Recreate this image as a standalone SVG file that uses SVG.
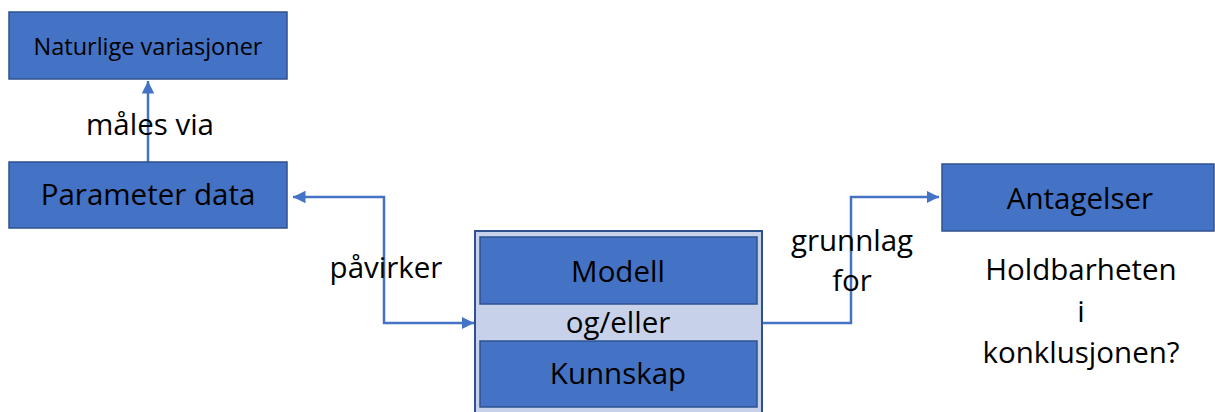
<svg xmlns="http://www.w3.org/2000/svg" width="1215" height="412" viewBox="0 0 1215 412">
<defs>
<style>
.box{fill:#4472C4;stroke:#2F528F;stroke-width:1.5}
.t{font-family:"Open Sans","Liberation Sans",sans-serif;fill:#000;text-anchor:middle;font-size:29.5px}
.edge{fill:none;stroke:#4472C4;stroke-width:2.5}
</style>
<marker id="ah" viewBox="0 0 10 10" refX="10" refY="5" markerWidth="5" markerHeight="5" orient="auto-start-reverse" markerUnits="strokeWidth">
<path d="M0,0 L10,5 L0,10 z" fill="#4472C4"/>
</marker>
</defs>
<rect width="1215" height="412" fill="#fff"/>
<g id="connectors">
<path class="edge" d="M148,162 V81" marker-end="url(#ah)"/>
<path class="edge" d="M293,197 H384 V323 H474" marker-start="url(#ah)" marker-end="url(#ah)"/>
<path class="edge" d="M762,323 H851 V197 H939" marker-end="url(#ah)"/>
</g>
<g id="naturlige">
<rect class="box" x="9" y="12" width="278" height="67"/>
<text class="t" x="148" y="55" style="font-size:23.5px">Naturlige variasjoner</text>
</g>
<g id="parameter">
<rect class="box" x="9" y="162" width="278" height="66"/>
<text class="t" x="148" y="205">Parameter data</text>
</g>
<g id="container">
<rect x="475" y="231" width="287" height="190" fill="#C7D2EA" stroke="#2F528F" stroke-width="2"/>
</g>
<g id="modell">
<rect class="box" x="480" y="237" width="277" height="67"/>
<text class="t" x="618" y="282">Modell</text>
</g>
<text class="t" x="618" y="333">og/eller</text>
<g id="kunnskap">
<rect class="box" x="480" y="341" width="277" height="66"/>
<text class="t" x="618" y="384">Kunnskap</text>
</g>
<g id="antagelser">
<rect class="box" x="942" y="164" width="272" height="67"/>
<text class="t" x="1080" y="209">Antagelser</text>
</g>
<text class="t" x="150" y="135">måles via</text>
<text class="t" x="386" y="278">påvirker</text>
<text class="t" x="852" y="251">grunnlag</text>
<text class="t" x="852" y="291">for</text>
<text class="t" x="1081" y="280">Holdbarheten</text>
<text class="t" x="1081" y="322">i</text>
<text class="t" x="1081" y="363">konklusjonen?</text>
</svg>
